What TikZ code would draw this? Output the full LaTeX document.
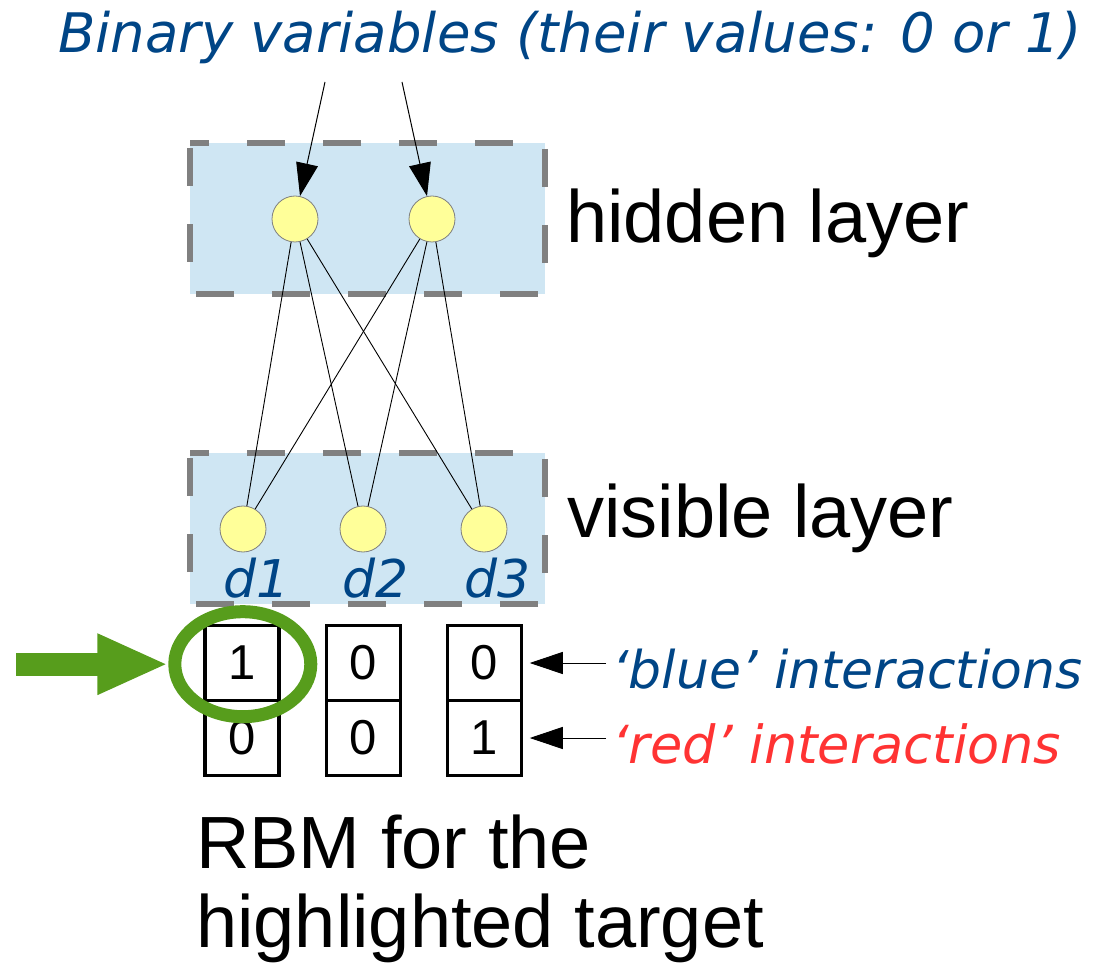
\documentclass[tikz,border=0pt]{standalone}
\usepackage{fontspec}
\setmainfont{Liberation Sans}
\newfontfamily\handfont{DejaVu Sans}
\usetikzlibrary{arrows.meta,shapes.geometric}

\definecolor{layerfill}{HTML}{CFE6F3}
\definecolor{layerdash}{HTML}{808080}
\definecolor{unitfill}{HTML}{FFFF99}
\definecolor{notenavy}{HTML}{004586}
\definecolor{notered}{HTML}{FF3333}
\definecolor{markgreen}{HTML}{579D1C}

\begin{document}
\begin{tikzpicture}[x=1pt,y=-1pt,
  layer/.style={fill=layerfill, draw=layerdash, line width=5.5pt,
    dash pattern=on 38pt off 38pt, dash phase=19pt, line join=round},
  unit/.style={circle, fill=unitfill, draw=layerdash, line width=0.8pt,
    minimum size=46pt, inner sep=0pt},
  weight/.style={line width=0.9pt},
  cell/.style={rectangle, draw=black, line width=3.5pt, minimum width=74pt,
    minimum height=75pt, inner sep=0pt, font=\fontsize{49}{49}\selectfont},
  bigtext/.style={anchor=base west, inner sep=0pt, font=\fontsize{74}{80}\selectfont},
  hand/.style={inner sep=0pt, font=\handfont\itshape\fontsize{#1}{#1}\selectfont},
  pointer/.style={line width=1pt, -{Triangle[length=33pt,width=22pt]}},
]
\useasboundingbox (0,0) rectangle (1109,965);

% the two layers
\path[layer] (190,143) -- (545,143) -- (545,294) -- (190,294) -- cycle;
\path[layer] (190,453) -- (545,453) -- (545,604) -- (190,604) -- cycle;

% units
\node[unit] (h1) at (295,219) {};
\node[unit] (h2) at (432,219) {};
\node[unit] (v1) at (243,529) {};
\node[unit] (v2) at (363,529) {};
\node[unit] (v3) at (484,529) {};

% full bipartite connections
\foreach \h in {h1,h2}
  \foreach \v in {v1,v2,v3}
    \draw[weight] (\h) -- (\v);

% labels of the visible units
\node[hand=52, anchor=base, text=notenavy] (d1) at (257,597) {d1};
\node[hand=52, anchor=base, text=notenavy] (d2) at (376,597) {d2};
\node[hand=52, anchor=base, text=notenavy] (d3) at (498,597) {d3};

% title and its pointers to the hidden units
\node[hand=54.5, anchor=base west, text=notenavy] (title) at (58,53)
  {Binary variables (their values: 0 or 1)};
\coordinate (p1) at (325,82);
\coordinate (p2) at (402,82);
\draw[pointer] (p1) -- (h1);
\draw[pointer] (p2) -- (h2);

% layer names
\node[bigtext] (hname) at (566,243) {hidden layer};
\node[bigtext] (vname) at (567,537) {visible layer};

% interaction table
\node[cell] (c1a) at (242,663) {1};
\node[cell] (c1b) at (242,738) {0};
\node[cell] (c2a) at (363.5,663) {0};
\node[cell] (c2b) at (363.5,738) {0};
\node[cell] (c3a) at (484.5,663) {0};
\node[cell] (c3b) at (484.5,738) {1};

% interaction notes
\node[hand=52, anchor=base west, text=notenavy] (bluenote) at (612,688) {‘blue’ interactions};
\node[hand=52.5, anchor=base west, text=notered] (rednote) at (612,763) {‘red’ interactions};
\coordinate (bluefrom) at (606,663);
\coordinate (redfrom) at (606,738);
\draw[pointer, shorten >=6.5pt] (bluefrom) -- (c3a.east);
\draw[pointer, shorten >=6.5pt] (redfrom) -- (c3b.east);

% highlighted target
\node[ellipse, draw=markgreen, line width=13pt, minimum width=136pt,
  minimum height=105pt, inner sep=0pt] (mark) at (242.8,664.2) {};
\coordinate (markfrom) at (16,664.2);
\draw[markgreen, line width=23pt, -{Triangle[length=71pt,width=56pt]}] (markfrom) -- (mark.west);

% caption
\node[bigtext] (cap1) at (196,868) {RBM for the};
\node[bigtext] (cap2) at (196,947) {highlighted target};
\end{tikzpicture}
\end{document}
